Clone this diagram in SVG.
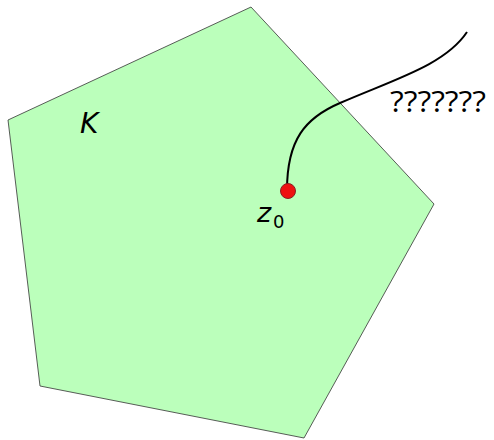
<svg xmlns="http://www.w3.org/2000/svg" width="494" height="440" viewBox="0 0 494 440">
<style>
.lbl{font-family:"DejaVu Sans",sans-serif;fill:#000}
</style>
<rect width="494" height="440" fill="#fff"/>
<g id="K">
<polygon points="251,7 434,204 304,438 40,386 8,120" fill="#bbffbb" stroke="#333" stroke-width="0.8"/>
<text class="lbl" x="80" y="133" font-size="28" font-style="italic">K</text>
</g>
<g id="connectors">
<path d="M287,190 C287,140 305,118 340,103 C 395,79 445,65 467,32" fill="none" stroke="#000" stroke-width="2"/>
</g>
<g id="z0">
<circle cx="288" cy="191" r="7.5" fill="#ee1111" stroke="#882222" stroke-width="1"/>
<text class="lbl" x="257" y="222" font-size="27" font-style="italic">z</text>
<text class="lbl" x="273" y="228" font-size="18">0</text>
</g>
<g id="label">
<text x="390" y="112" font-size="29" font-family="'Open Sans',sans-serif" fill="#000" textLength="96" lengthAdjust="spacingAndGlyphs">???????</text>
</g>
</svg>
